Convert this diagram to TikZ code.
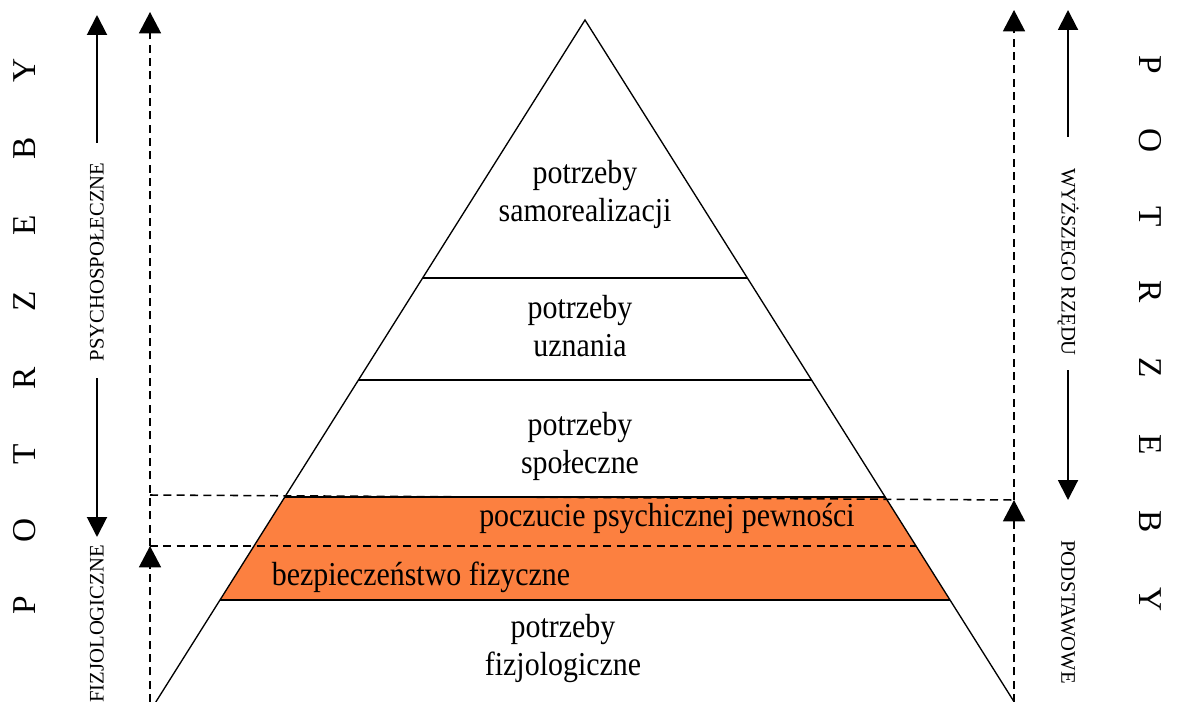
\documentclass[tikz,border=0pt]{standalone}
\usepackage{fontspec}
\setmainfont{Liberation Serif}
\usepackage{graphicx}
\usetikzlibrary{arrows.meta}
\definecolor{band}{RGB}{252,128,64}
% level captions: slightly tall lettering, centred lines
\newcommand{\pyrtext}[1]{\scalebox{1.02}[1.14]{\begin{tabular}{@{}c@{}}#1\end{tabular}}}
\begin{document}
\begin{tikzpicture}[x=0.75pt,y=-0.75pt,
  slopeline/.style={line width=1pt},
  divider/.style={line width=1.6pt},
  guide/.style={line width=1.15pt, dash pattern=on 6pt off 4pt},
  arrowhd/.style={-{Triangle[width=15pt,length=15pt]}},
  bigarrowhd/.style={-{Triangle[width=16.5pt,length=16pt]}},
  riser/.style={line width=1.5pt},
  lbl/.style={font=\fontsize{22}{25}\selectfont, inner sep=0pt},
  sidelbl/.style={font=\fontsize{15.5}{18}\selectfont, inner sep=0pt},
  bigletter/.style={font=\fontsize{25}{30}\selectfont, inner sep=0pt}]
\useasboundingbox (0,0) rectangle (1177,702);

% pyramid corners
\coordinate (apex) at (585,20);
\coordinate (bl) at (155.8,702);
\coordinate (br) at (1014.2,702);
\coordinate (a1) at (422.6,278); \coordinate (b1) at (747.4,278);
\coordinate (a2) at (358.4,380); \coordinate (b2) at (811.6,380);
\coordinate (a3) at (284.8,497); \coordinate (b3) at (885.2,497);
\coordinate (a4) at (220,600);   \coordinate (b4) at (950,600);

% safety band
\fill[band] (a3) -- (b3) -- (b4) -- (a4) -- cycle;

% outline and level dividers
\draw[slopeline] (bl) -- (apex) -- (br);
\draw[divider] (a1) -- (b1);
\draw[divider] (a2) -- (b2);
\draw[line width=2pt] (a3) -- (b3);
\draw[line width=2pt] (a4) -- (b4);

% level captions
\node[lbl] (self) at (585,195) {\pyrtext{potrzeby\\samorealizacji}};
\node[lbl] (esteem) at (580,330) {\pyrtext{potrzeby\\uznania}};
\node[lbl] (social) at (580,447) {\pyrtext{potrzeby\\społeczne}};
\node[lbl] (psych) at (667,519) {\pyrtext{poczucie psychicznej pewności}};
\node[lbl] (phys) at (421,578) {\pyrtext{bezpieczeństwo fizyczne}};
\node[lbl] (body) at (563,649) {\pyrtext{potrzeby\\fizjologiczne}};

% dashed range markers
\coordinate (lbot) at (150,702);
\coordinate (lmid) at (150,546);
\coordinate (ltopd) at (150,12);
\coordinate (lup) at (150,495);
\coordinate (rbot) at (1014,702);
\coordinate (rmid) at (1014,500);
\coordinate (rtopd) at (1014,10);
\coordinate (rin) at (916,546);

\draw[guide] (lup) -- (rmid);
\draw[guide] (lmid) -- (rin);
\draw[guide,bigarrowhd] (lbot) -- (lmid);
\draw[guide,bigarrowhd] (lmid) -- (ltopd);
\draw[guide,bigarrowhd] (rbot) -- (rmid);
\draw[guide,bigarrowhd] (rmid) -- (rtopd);

% left scale
\node[sidelbl, rotate=90] (psycho) at (97,262) {PSYCHOSPOŁECZNE};
\node[sidelbl, rotate=90, anchor=east] (fizjo) at (97,545) {FIZJOLOGICZNE};
\coordinate (lu1) at (97,143); \coordinate (lu2) at (97,15);
\coordinate (ld1) at (97,378); \coordinate (ld2) at (97,537);
\draw[riser,arrowhd] (lu1) -- (lu2);
\draw[riser,arrowhd] (ld1) -- (ld2);

% right scale
\node[sidelbl, rotate=-90] (wyzsze) at (1068,262) {WYŻSZEGO RZĘDU};
\node[sidelbl, rotate=-90] (podst) at (1068,612) {PODSTAWOWE};
\coordinate (ru1) at (1068,137); \coordinate (ru2) at (1068,10);
\coordinate (rd1) at (1068,370); \coordinate (rd2) at (1068,500);
\draw[riser,arrowhd] (ru1) -- (ru2);
\draw[riser,arrowhd] (rd1) -- (rd2);

% spaced vertical headings
\foreach \ch/\yy [count=\i] in {P/605,O/530,T/454,R/378,Z/301,E/225,B/148,Y/70}
  \node[bigletter, rotate=90] (L\i) at (25,\yy) {\ch};
\foreach \ch/\yy [count=\i] in {P/65,O/141,T/217,R/292,Z/368,E/445,B/522,Y/600}
  \node[bigletter, rotate=-90] (R\i) at (1150,\yy) {\ch};
\end{tikzpicture}
\end{document}
